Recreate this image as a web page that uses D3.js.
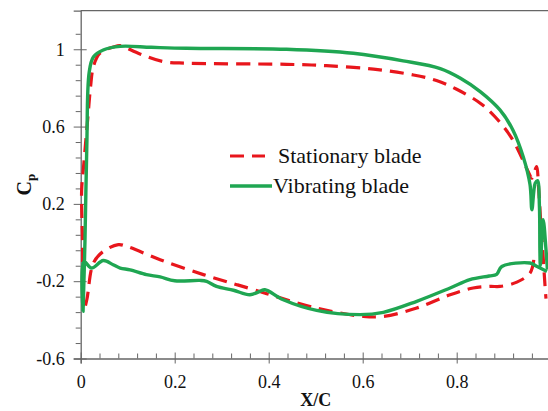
<!DOCTYPE html>
<html>
<head>
<meta charset="utf-8">
<script src="https://cdn.jsdelivr.net/npm/d3@7"></script>
<style>
  body { margin: 0; background: #fff; }
  svg { display: block; }
</style>
</head>
<body>
<script>
// Cp distribution (loop: lower side TE -> LE -> upper side -> TE)
const stationaryX = [0.964, 0.956, 0.928, 0.892, 0.871, 0.835, 0.786, 0.715, 0.644, 0.601,
  0.502, 0.403, 0.381, 0.332, 0.261, 0.169, 0.098, 0.08, 0.048, 0.027,
  0.013, 0.007, 0.004, 0.002, 0.0055, 0.011, 0.016, 0.021, 0.027, 0.041,
  0.077, 0.084, 0.126, 0.176, 0.225, 0.438, 0.523, 0.623, 0.708, 0.757,
  0.8, 0.85, 0.881, 0.917, 0.952, 0.96, 0.97, 0.974, 0.979, 0.983, 0.988, 0.99];
const stationaryCp = [-0.09, -0.158, -0.205, -0.227, -0.227, -0.235, -0.27, -0.339, -0.382, -0.382,
  -0.339, -0.27, -0.253, -0.218, -0.166, -0.089, -0.02, -0.011, -0.046, -0.106,
  -0.296, -0.347, 0.0, 0.27, 0.376, 0.531, 0.669, 0.807, 0.91, 0.98,
  1.017, 1.019, 0.976, 0.936, 0.928, 0.922, 0.915, 0.897, 0.867, 0.838,
  0.793, 0.721, 0.652, 0.54, 0.368, 0.333, 0.393, 0.29, 0.1, -0.037, -0.227, -0.29];

const vibratingX = [0.992, 0.97, 0.956, 0.896, 0.885, 0.869, 0.828, 0.786, 0.715, 0.644,
  0.594, 0.502, 0.431, 0.392, 0.381, 0.36, 0.325, 0.289, 0.268, 0.254,
  0.2, 0.169, 0.14, 0.105, 0.084, 0.069, 0.048, 0.023, 0.007, 0.005,
  0.009, 0.013, 0.018, 0.027, 0.048, 0.084, 0.15, 0.225, 0.438, 0.58,
  0.686, 0.765, 0.808, 0.85, 0.892, 0.92, 0.942, 0.956, 0.96, 0.967,
  0.972, 0.976, 0.977, 0.978, 0.984, 0.99, 0.993];
const vibratingCp = [-0.15, -0.123, -0.106, -0.124, -0.165, -0.173, -0.192, -0.235, -0.304, -0.361,
  -0.373, -0.351, -0.296, -0.244, -0.253, -0.27, -0.247, -0.227, -0.201, -0.196,
  -0.198, -0.178, -0.166, -0.141, -0.132, -0.115, -0.093, -0.132, -0.098, -0.356,
  0.0, 0.5, 0.88, 0.96, 0.996, 1.015, 1.01, 1.005, 1.0, 0.979,
  0.94, 0.9, 0.85, 0.781, 0.686, 0.58, 0.44, 0.3, 0.17, 0.307,
  0.32, 0.187, -0.04, -0.12, 0.118, -0.037, -0.14];

const xMajor = [0, 0.2, 0.4, 0.6, 0.8];
const xMinor = d3.range(1, 25).map((i) => i * 0.04);
const yMajor = [-0.6, -0.2, 0.2, 0.6, 1];
const yMinor = d3.range(1, 22).map((i) => -0.6 + i * 0.08);

const legendItems = ["Stationary blade", "Vibrating blade"];

const width = 548,
  height = 411;
const margin = { top: 10.6, right: -2.7, bottom: 52.5, left: 80.7 };

const x = d3.scaleLinear().domain([0, 1]).range([margin.left, width - margin.right]);
const y = d3.scaleLinear().domain([-0.6, 1.2]).range([height - margin.bottom, margin.top]);

const axisColor = "#666";
const serif = '"Liberation Serif"';
const fmt = (v) => String(+v.toFixed(2)); // plain hyphen minus, as in the figure
const isMajor = (majors) => (v) => majors.some((m) => Math.abs(m - v) < 1e-6);

const svg = d3
  .select("body")
  .append("svg")
  .attr("width", width)
  .attr("height", height)
  .attr("viewBox", [0, 0, width, height]);

// frame (top and right)
svg
  .append("path")
  .attr("fill", "none")
  .attr("stroke", axisColor)
  .attr("stroke-width", 1.3)
  .attr("d", `M${x(0)},${y(1.2)}H${x(1)}V${y(-0.6)}`);

// y axis
svg
  .append("g")
  .attr("transform", `translate(${x(0)},0)`)
  .call(d3.axisLeft(y).tickValues(yMinor.filter((v) => !isMajor(yMajor)(v))).tickSize(5).tickFormat(""))
  .call((g) => g.select(".domain").remove())
  .call((g) => g.selectAll("line").attr("stroke", axisColor));

svg
  .append("g")
  .attr("transform", `translate(${x(0)},0)`)
  .call(d3.axisLeft(y).tickValues(yMajor).tickSize(7).tickPadding(9).tickFormat(fmt))
  .call((g) => g.select(".domain").attr("stroke", axisColor).attr("stroke-width", 1.3))
  .call((g) => g.selectAll(".tick line").attr("stroke", axisColor).attr("x2", -7).attr("x1", 6))
  .call((g) =>
    g.selectAll("text").style("font-family", serif).attr("font-size", 18).attr("fill", "#111")
  );

// x axis
svg
  .append("g")
  .attr("transform", `translate(0,${y(-0.6)})`)
  .call(d3.axisBottom(x).tickValues(xMinor.filter((v) => !isMajor(xMajor)(v))).tickSize(-5).tickFormat(""))
  .call((g) => g.select(".domain").remove())
  .call((g) => g.selectAll("line").attr("stroke", axisColor));

svg
  .append("g")
  .attr("transform", `translate(0,${y(-0.6)})`)
  .call(d3.axisBottom(x).tickValues(xMajor).tickSize(5).tickPadding(12).tickFormat(fmt))
  .call((g) => g.select(".domain").attr("stroke", axisColor).attr("stroke-width", 1.3))
  .call((g) => g.selectAll(".tick line").attr("stroke", axisColor).attr("y1", -6).attr("y2", 5))
  .call((g) =>
    g.selectAll("text").style("font-family", serif).attr("font-size", 18).attr("fill", "#111")
  );

// axis titles
svg
  .append("text")
  .attr("x", x(0.5))
  .attr("y", 406)
  .attr("text-anchor", "middle")
  .style("font-family", serif)
  .attr("font-weight", "bold")
  .attr("font-size", 18)
  .attr("fill", "#111")
  .text("X/C");

const yTitle = svg
  .append("text")
  .attr("transform", `translate(31,${(y(1.2) + y(-0.6)) / 2}) rotate(-90)`)
  .attr("text-anchor", "middle")
  .style("font-family", serif)
  .attr("font-weight", "bold")
  .attr("font-size", 20)
  .attr("fill", "#111");
yTitle.append("tspan").text("C");
yTitle.append("tspan").attr("font-size", 13).attr("dy", 4).text("p");

// curves
const line = d3
  .line()
  .x((d) => x(d[0]))
  .y((d) => y(d[1]))
  .curve(d3.curveCatmullRom.alpha(0.5));

const series = [
  { name: legendItems[0], pts: d3.zip(stationaryX, stationaryCp), color: "#e8161c", dash: "14,8", w: 3.2 },
  { name: legendItems[1], pts: d3.zip(vibratingX, vibratingCp), color: "#1fa652", dash: null, w: 3.4 },
];

svg
  .append("g")
  .attr("fill", "none")
  .selectAll("path")
  .data(series)
  .join("path")
  .attr("stroke", (d) => d.color)
  .attr("stroke-width", (d) => d.w)
  .attr("stroke-dasharray", (d) => d.dash)
  .attr("stroke-linejoin", "round")
  .attr("d", (d) => line(d.pts));

// legend
const legend = svg
  .append("g")
  .selectAll("g")
  .data(series)
  .join("g")
  .attr("transform", (d, i) => `translate(230,${156 + i * 30})`);

legend
  .append("line")
  .attr("x1", 0)
  .attr("x2", (d, i) => (i === 0 ? 35 : 42))
  .attr("stroke", (d) => d.color)
  .attr("stroke-width", (d) => d.w)
  .attr("stroke-dasharray", (d) => d.dash);

legend
  .append("text")
  .attr("x", (d, i) => (i === 0 ? 48 : 43))
  .attr("y", 7)
  .style("font-family", serif)
  .attr("font-size", 22)
  .attr("fill", "#111")
  .text((d) => d.name);
</script>
</body>
</html>
